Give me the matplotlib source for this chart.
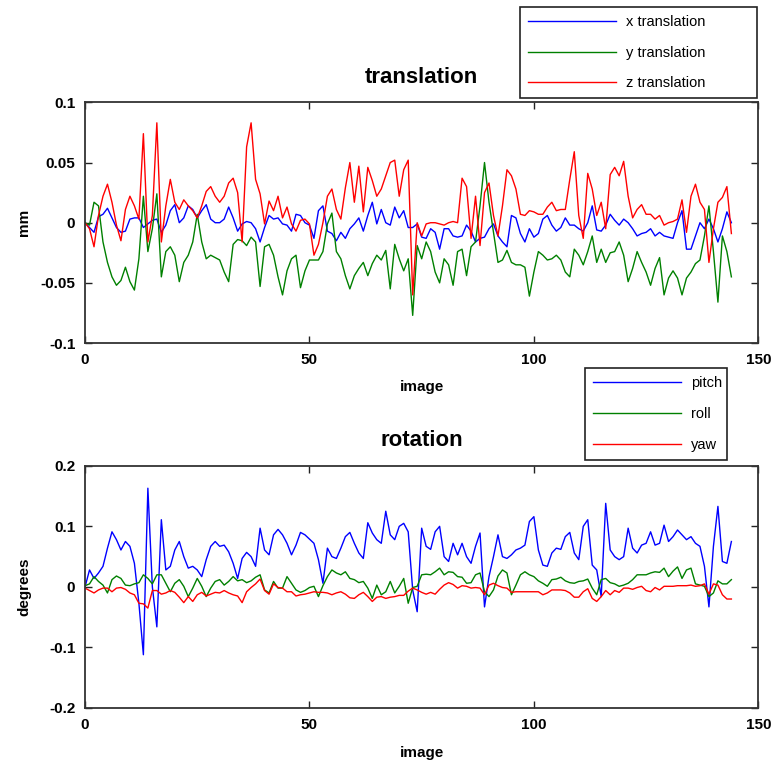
import numpy as np
import matplotlib
matplotlib.use('Agg')
import matplotlib.pyplot as plt

images = np.arange(145)

x_translation = [
    0.000, -0.004, -0.008, 0.005, 0.007, 0.012, 0.004, -0.004, -0.008, -0.007,
    0.003, 0.004, 0.004, -0.004, -0.001, 0.002, 0.003, -0.008, -0.002, 0.010,
    0.015, 0.000, 0.004, 0.014, 0.011, 0.004, 0.010, 0.015, 0.003, 0.000,
    0.000, 0.003, 0.013, 0.004, -0.007, -0.001, 0.001, 0.000, -0.005, -0.016,
    -0.004, 0.006, 0.003, 0.004, -0.001, -0.002, -0.007, 0.007, 0.006, 0.000,
    -0.002, -0.013, 0.010, 0.014, -0.007, -0.009, -0.015, -0.008, -0.013, -0.005,
    -0.001, 0.004, -0.007, 0.006, 0.017, -0.001, 0.011, 0.000, -0.002, 0.013,
    0.004, 0.010, -0.004, -0.004, -0.001, -0.012, -0.013, -0.005, -0.008, -0.022,
    -0.005, -0.005, -0.011, -0.012, -0.011, -0.002, -0.007, -0.016, -0.013, -0.012,
    -0.005, -0.001, -0.011, -0.016, -0.020, 0.006, 0.004, -0.009, -0.016, -0.005,
    -0.012, -0.009, 0.003, 0.006, -0.002, -0.007, -0.004, 0.004, -0.002, -0.002,
    -0.005, -0.007, 0.000, 0.014, -0.006, -0.007, -0.002, 0.007, 0.002, -0.002,
    0.003, 0.000, -0.005, -0.011, -0.009, -0.008, -0.005, -0.011, -0.008, -0.011,
    -0.012, -0.013, 0.000, 0.010, -0.022, -0.022, -0.011, 0.000, -0.005, 0.003,
    -0.005, -0.016, -0.005, 0.009, 0.000,
]

y_translation = [
    0.000, -0.002, 0.017, 0.014, -0.016, -0.033, -0.045, -0.052, -0.048, -0.037,
    -0.049, -0.056, -0.030, 0.022, -0.024, -0.005, 0.024, -0.045, -0.024, -0.020,
    -0.027, -0.049, -0.033, -0.027, -0.016, 0.007, -0.016, -0.030, -0.027, -0.029,
    -0.031, -0.041, -0.049, -0.018, -0.014, -0.015, -0.019, -0.012, -0.016, -0.053,
    -0.020, -0.018, -0.027, -0.045, -0.060, -0.040, -0.030, -0.027, -0.054, -0.040,
    -0.031, -0.031, -0.031, -0.024, -0.001, 0.008, -0.024, -0.030, -0.044, -0.055,
    -0.044, -0.038, -0.033, -0.044, -0.034, -0.027, -0.031, -0.023, -0.055, -0.018,
    -0.030, -0.040, -0.030, -0.077, -0.019, -0.030, -0.016, -0.024, -0.041, -0.050,
    -0.030, -0.035, -0.052, -0.024, -0.022, -0.044, -0.020, -0.016, 0.014, 0.050,
    0.017, -0.008, -0.033, -0.031, -0.023, -0.033, -0.035, -0.035, -0.037, -0.061,
    -0.041, -0.024, -0.027, -0.031, -0.030, -0.027, -0.031, -0.041, -0.045, -0.022,
    -0.027, -0.035, -0.024, -0.011, -0.033, -0.022, -0.033, -0.025, -0.024, -0.016,
    -0.027, -0.049, -0.038, -0.024, -0.033, -0.041, -0.052, -0.038, -0.029, -0.060,
    -0.046, -0.040, -0.046, -0.060, -0.046, -0.041, -0.034, -0.031, -0.011, 0.014,
    -0.024, -0.066, -0.011, -0.024, -0.045,
]

z_translation = [
    0.000, -0.005, -0.020, 0.006, 0.022, 0.032, 0.017, -0.002, -0.015, 0.011,
    0.022, 0.014, 0.003, 0.074, -0.016, 0.006, 0.083, -0.016, 0.014, 0.036,
    0.017, 0.011, 0.019, 0.014, 0.010, 0.004, 0.014, 0.026, 0.030, 0.022,
    0.017, 0.022, 0.033, 0.037, 0.025, -0.016, 0.063, 0.083, 0.036, 0.024,
    -0.001, 0.018, 0.010, 0.022, 0.004, 0.013, -0.001, -0.007, 0.002, 0.003,
    -0.001, -0.027, -0.018, 0.000, 0.022, 0.028, 0.011, 0.003, 0.029, 0.050,
    0.017, 0.047, 0.009, 0.046, 0.035, 0.022, 0.028, 0.039, 0.050, 0.052,
    0.022, 0.044, 0.052, -0.060, 0.000, -0.011, -0.001, 0.000, 0.000, -0.001,
    -0.002, 0.000, 0.001, 0.000, 0.037, 0.030, -0.013, 0.022, -0.019, 0.025,
    0.033, 0.006, -0.011, 0.014, 0.044, 0.039, 0.028, 0.007, 0.006, 0.010,
    0.009, 0.007, 0.007, 0.013, 0.017, 0.010, 0.011, 0.011, 0.036, 0.059,
    0.006, -0.013, 0.041, 0.028, 0.006, 0.017, -0.005, 0.040, 0.046, 0.039,
    0.051, 0.022, 0.004, 0.011, 0.015, 0.007, 0.007, 0.003, 0.006, -0.002,
    0.000, 0.001, 0.003, 0.019, -0.008, 0.022, 0.032, 0.017, 0.011, -0.033,
    -0.005, 0.017, 0.021, 0.030, -0.009,
]

pitch = [
    0.000, 0.028, 0.014, 0.023, 0.034, 0.064, 0.091, 0.078, 0.061, 0.075,
    0.067, 0.039, -0.027, -0.112, 0.163, 0.000, -0.066, 0.111, 0.028, 0.034,
    0.061, 0.075, 0.050, 0.031, 0.034, 0.028, 0.017, 0.045, 0.067, 0.075,
    0.067, 0.069, 0.058, 0.039, 0.014, 0.047, 0.057, 0.050, 0.034, 0.097,
    0.061, 0.053, 0.086, 0.095, 0.086, 0.072, 0.053, 0.069, 0.090, 0.086,
    0.079, 0.072, 0.045, 0.006, 0.064, 0.050, 0.047, 0.064, 0.083, 0.090,
    0.072, 0.056, 0.047, 0.106, 0.089, 0.078, 0.072, 0.125, 0.086, 0.078,
    0.100, 0.105, 0.091, -0.005, -0.041, 0.097, 0.067, 0.062, 0.091, 0.100,
    0.050, 0.042, 0.072, 0.053, 0.072, 0.050, 0.039, 0.067, 0.089, -0.033,
    0.017, 0.050, 0.086, 0.050, 0.047, 0.053, 0.061, 0.064, 0.069, 0.108,
    0.116, 0.061, 0.036, 0.034, 0.056, 0.064, 0.062, 0.083, 0.090, 0.056,
    0.045, 0.100, 0.111, 0.036, 0.028, -0.016, 0.138, 0.061, 0.050, 0.045,
    0.050, 0.097, 0.064, 0.056, 0.069, 0.072, 0.091, 0.069, 0.072, 0.102,
    0.075, 0.083, 0.094, 0.086, 0.078, 0.083, 0.072, 0.067, 0.034, -0.033,
    0.067, 0.133, 0.042, 0.039, 0.075,
]

roll = [
    0.002, 0.005, 0.017, 0.009, 0.003, -0.010, 0.012, 0.018, 0.014, 0.003,
    0.002, 0.005, 0.007, 0.020, 0.014, 0.005, 0.020, 0.020, 0.006, -0.008,
    0.006, 0.012, 0.001, -0.016, -0.002, 0.014, 0.001, -0.016, -0.002, 0.009,
    0.012, 0.003, 0.009, 0.017, 0.010, 0.012, 0.007, 0.010, 0.016, 0.020,
    -0.005, -0.010, 0.009, -0.002, -0.002, 0.017, 0.006, -0.005, -0.009, -0.006,
    -0.001, 0.001, -0.016, 0.002, 0.017, 0.028, 0.023, 0.020, 0.025, 0.014,
    0.012, 0.007, 0.009, -0.002, -0.019, 0.003, -0.013, -0.008, 0.009, -0.010,
    0.001, 0.014, -0.027, -0.001, 0.001, 0.020, 0.021, 0.020, 0.025, 0.031,
    0.020, 0.025, 0.024, 0.017, 0.016, 0.006, 0.007, 0.020, 0.023, -0.008,
    -0.016, -0.005, 0.018, 0.028, 0.023, -0.013, 0.003, 0.020, 0.025, 0.020,
    0.017, 0.010, 0.006, 0.001, 0.012, 0.013, 0.016, 0.010, 0.007, 0.006,
    0.009, 0.010, 0.013, -0.002, -0.013, 0.012, 0.014, 0.007, 0.005, 0.001,
    0.003, 0.006, 0.012, 0.020, 0.020, 0.020, 0.023, 0.025, 0.024, 0.031,
    0.017, 0.026, 0.033, 0.014, 0.028, 0.031, 0.005, 0.003, 0.001, -0.016,
    -0.010, 0.010, 0.005, 0.005, 0.012,
]

yaw = [
    -0.002, -0.006, -0.010, -0.005, -0.002, -0.002, -0.008, -0.002, -0.001, -0.004,
    -0.010, -0.013, -0.027, -0.028, -0.035, -0.006, -0.006, -0.012, -0.010, -0.006,
    -0.009, -0.017, -0.026, -0.016, -0.024, -0.013, -0.009, -0.015, -0.012, -0.009,
    -0.010, -0.006, -0.010, -0.013, -0.015, -0.026, -0.008, -0.001, 0.005, 0.013,
    -0.006, -0.012, 0.005, -0.001, -0.002, -0.008, -0.008, -0.015, -0.013, -0.012,
    -0.010, -0.008, -0.009, -0.009, -0.010, -0.013, -0.010, -0.008, -0.012, -0.018,
    -0.019, -0.013, -0.009, -0.016, -0.024, -0.017, -0.016, -0.019, -0.017, -0.016,
    -0.014, -0.014, -0.007, -0.002, -0.005, -0.009, -0.012, -0.009, -0.012, -0.004,
    0.003, 0.007, 0.004, -0.002, 0.002, 0.001, -0.002, -0.001, -0.002, -0.013,
    0.003, 0.006, 0.002, -0.001, -0.002, -0.009, -0.008, -0.008, -0.008, -0.008,
    -0.008, -0.008, -0.013, -0.010, -0.005, -0.005, -0.005, -0.006, -0.010, -0.017,
    -0.017, -0.008, -0.003, -0.019, -0.024, -0.016, -0.006, -0.013, -0.006, -0.009,
    -0.002, -0.002, -0.004, -0.001, 0.001, -0.006, -0.008, -0.001, -0.005, 0.001,
    0.001, 0.001, 0.002, 0.002, 0.002, 0.003, 0.001, 0.002, 0.005, -0.012,
    0.005, 0.003, -0.013, -0.020, -0.020,
]

trans_labels = ['x translation', 'y translation', 'z translation']
rot_labels = ['pitch', 'roll', 'yaw']
trans_yticks = [-0.1, -0.05, 0, 0.05, 0.1]
trans_yticklabels = ['-0.1', '-0.05', '0', '0.05', '0.1']
rot_yticks = [-0.2, -0.1, 0, 0.1, 0.2]
rot_yticklabels = ['-0.2', '-0.1', '0', '0.1', '0.2']
xticks = [0, 50, 100, 150]
xticklabels = ['0', '50', '100', '150']

colors = ['#0000ff', '#008000', '#ff0000']
wide = ['Liberation Sans', 'DejaVu Sans']
plt.rcParams['font.family'] = wide

fig = plt.figure(figsize=(7.73, 7.64), dpi=100)
ax1 = fig.add_axes([0.110, 0.551, 0.871, 0.315])
ax2 = fig.add_axes([0.110, 0.0733, 0.871, 0.317])

configs = [
    (ax1, [x_translation, y_translation, z_translation], trans_labels, (-0.1, 0.1),
     trans_yticks, trans_yticklabels, 'translation', 'mm',
     (0.673, 0.872, 0.306, 0.119)),
    (ax2, [pitch, roll, yaw], rot_labels, (-0.2, 0.2),
     rot_yticks, rot_yticklabels, 'rotation', 'degrees',
     (0.757, 0.399, 0.184, 0.119)),
]

for ax, series, labels, ylim, yt, ytl, title, ylab, lbox in configs:
    handles = []
    for s, c, lab in zip(series, colors, labels):
        h, = ax.plot(images, s, color=c, lw=1.0, label=lab)
        handles.append(h)
    ax.set_xlim(0, 150)
    ax.set_ylim(*ylim)
    ax.set_xticks(xticks)
    ax.set_xticklabels(xticklabels)
    ax.set_yticks(yt)
    ax.set_yticklabels(ytl)
    ax.tick_params(direction='in', length=5, width=1, top=True, right=True,
                   labelsize=11, pad=7, colors='#222222', labelcolor='black')
    for lbl in ax.get_xticklabels() + ax.get_yticklabels():
        lbl.set_fontweight('bold')
    for sp in ax.spines.values():
        sp.set_linewidth(1.3)
        sp.set_color('#333333')
    ax.set_title(title, fontsize=16, fontweight='heavy', pad=14)
    ax.set_xlabel('image', fontsize=11, fontweight='bold')
    ax.set_ylabel(ylab, fontsize=11, fontweight='bold')
    ax.xaxis.set_label_coords(0.5, -0.155)
    ax.yaxis.set_label_coords(-0.08, 0.5)
    leg = fig.legend(handles, labels, loc='upper left', bbox_to_anchor=lbox,
                     mode='expand', ncol=1, fontsize=10.5, handlelength=6.0,
                     handletextpad=0.7, labelspacing=1.15, borderpad=0.55,
                     borderaxespad=0.0, frameon=True, fancybox=False,
                     edgecolor='#222222', framealpha=1.0)
    leg.get_frame().set_linewidth(1.2)

fig.savefig('out.png', dpi=100, facecolor='white')
